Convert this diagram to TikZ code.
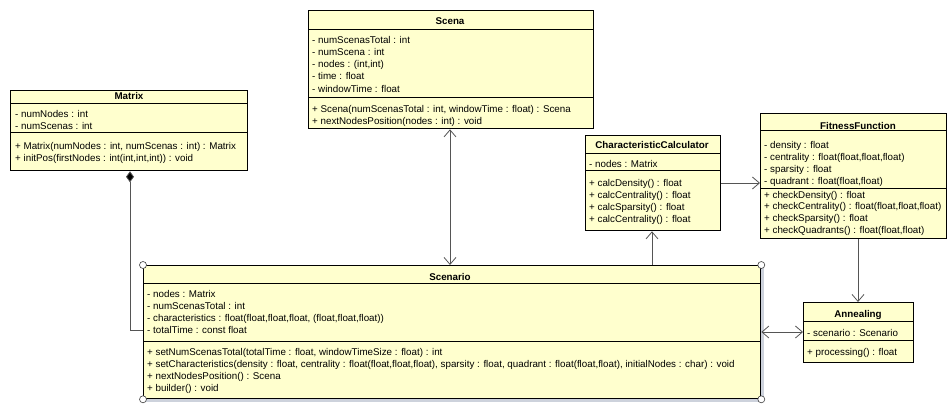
\documentclass[tikz,border=0pt]{standalone}
\usepackage{fontspec}
\setmainfont{Liberation Sans}
\usetikzlibrary{arrows.meta}
\definecolor{clsfill}{RGB}{255,255,206}
\definecolor{connc}{RGB}{85,85,85}
\definecolor{shadowc}{RGB}{205,210,220}
\newcommand{\umlrows}[5]{%
  \foreach \rowtext [count=\i] in {#5}{\node[txt] (#1-\i) at (#2,{#3+#4*(\i-1)}) {\rowtext};}}
\tikzset{
  cls/.style={draw=black, line width=1.3pt, fill=clsfill, rectangle, inner sep=0pt, anchor=north west},
  divl/.style={draw=black, line width=0.8pt},
  txt/.style={anchor=base west, inner sep=0pt, font=\fontsize{9.8}{11}\selectfont},
  hdr/.style={anchor=base, inner sep=0pt, font=\fontsize{9.8}{11}\selectfont\bfseries},
  conn/.style={draw=connc, line width=0.8pt},
  corner/.style={circle, draw=black!75, fill=white, line width=0.6pt, minimum size=7pt, inner sep=0pt},
}
\begin{document}
\begin{tikzpicture}[x=1pt, y=-1pt, >={Straight Barb[length=7pt,width=12pt]}]
\fill[white] (0,0) rectangle (947,405);
\useasboundingbox (0,0) rectangle (947,405);

% ---------- Matrix
\node[cls, minimum width=237pt, minimum height=80pt] (matrix) at (10,90) {};
\draw[divl] (matrix.west |- 0,103) -- (matrix.east |- 0,103);
\draw[divl] (matrix.west |- 0,132) -- (matrix.east |- 0,132);
\node[hdr] (matrix-h) at (129,99) {Matrix};
\umlrows{matrix-a}{15}{117}{12.5}{{- numNodes : int},{- numScenas : int}}
\umlrows{matrix-m}{15}{149}{12.3}{{+ Matrix(numNodes : int, numScenas : int) : Matrix},{+ initPos(firstNodes : int(int,int,int)) : void}}

% ---------- Scena
\node[cls, minimum width=285pt, minimum height=118pt] (scena) at (308,10) {};
\draw[divl] (scena.west |- 0,29) -- (scena.east |- 0,29);
\draw[divl] (scena.west |- 0,97) -- (scena.east |- 0,97);
\node[hdr] (scena-h) at (450,24) {Scena};
\umlrows{scena-a}{312}{43}{12.3}{{- numScenasTotal : int},{- numScena : int},{- nodes : (int,int)},{- time : float},{- windowTime : float}}
\umlrows{scena-m}{312}{112}{12.3}{{+ Scena(numScenasTotal : int, windowTime : float) : Scena},{+ nextNodesPosition(nodes : int) : void}}

% ---------- CharacteristicCalculator
\node[cls, minimum width=135pt, minimum height=95pt] (cc) at (585,135) {};
\draw[divl] (cc.west |- 0,153) -- (cc.east |- 0,153);
\draw[divl] (cc.west |- 0,170) -- (cc.east |- 0,170);
\node[hdr] (cc-h) at (652,148) {CharacteristicCalculator};
\umlrows{cc-a}{589}{167}{12.3}{{- nodes : Matrix}}
\umlrows{cc-m}{589}{186}{12.3}{{+ calcDensity() : float},{+ calcCentrality() : float},{+ calcSparsity() : float},{+ calcCentrality() : float}}

% ---------- FitnessFunction
\node[cls, minimum width=186pt, minimum height=125pt] (ff) at (760,113) {};
\draw[divl] (ff.west |- 0,130) -- (ff.east |- 0,130);
\draw[divl] (ff.west |- 0,188) -- (ff.east |- 0,188);
\node[hdr] (ff-h) at (858,129) {FitnessFunction};
\umlrows{ff-a}{764}{148}{12.2}{{- density : float},{- centrality : float(float,float,float)},{- sparsity : float},{- quadrant : float(float,float)}}
\umlrows{ff-m}{764}{198}{11.7}{{+ checkDensity() : float},{+ checkCentrality() : float(float,float,float)},{+ checkSparsity() : float},{+ checkQuadrants() : float(float,float)}}

% ---------- Scenario
\fill[shadowc] (146,268) rectangle (764,402);
\node[cls, minimum width=617pt, minimum height=133pt] (scenario) at (143,265) {};
\draw[divl] (scenario.west |- 0,283) -- (scenario.east |- 0,283);
\draw[divl] (scenario.west |- 0,341) -- (scenario.east |- 0,341);
\node[hdr] (scenario-h) at (450,280) {Scenario};
\umlrows{scenario-a}{147}{297}{12.3}{{- nodes : Matrix},{- numScenasTotal : int},{- characteristics : float(float,float,float, (float,float,float))},{- totalTime : const float}}
\umlrows{scenario-m}{147}{355}{12.1}{{+ setNumScenasTotal(totalTime : float, windowTimeSize : float) : int},{+ setCharacteristics(density : float, centrality : float(float,float,float), sparsity : float, quadrant : float(float,float), initialNodes : char) : void},{+ nextNodesPosition() : Scena},{+ builder() : void}}

% ---------- Annealing
\node[cls, minimum width=110pt, minimum height=60pt] (ann) at (803,302) {};
\draw[divl] (ann.west |- 0,321) -- (ann.east |- 0,321);
\draw[divl] (ann.west |- 0,340) -- (ann.east |- 0,340);
\node[hdr] (ann-h) at (858,317) {Annealing};
\umlrows{ann-a}{807}{336}{12.3}{{- scenario : Scenario}}
\umlrows{ann-m}{807}{355}{12.3}{{+ processing() : float}}

% ---------- connectors
\draw[conn, -{Diamond[length=11pt,width=8pt,fill=black]}] (scenario.west |- 0,330) -| (matrix.south -| 130,0);
\draw[conn, <->] (scena.south -| 450,0) -- (scenario.north -| 450,0);
\draw[conn, ->] (scenario.north -| 652,0) -- (cc.south -| 652,0);
\draw[conn, ->] (cc.east |- 0,183) -- (ff.west |- 0,183);
\draw[conn, ->] (ff.south -| 858,0) -- (ann.north -| 858,0);
\draw[conn, <->] (scenario.east |- 0,332) -- (ann.west |- 0,332);

% corner marks
\node[corner] (scn-c1) at (scenario.north west) {};
\node[corner] (scn-c2) at (scenario.north east) {};
\node[corner] (scn-c3) at (scenario.south west) {};
\node[corner] (scn-c4) at (scenario.south east) {};
\end{tikzpicture}
\end{document}
